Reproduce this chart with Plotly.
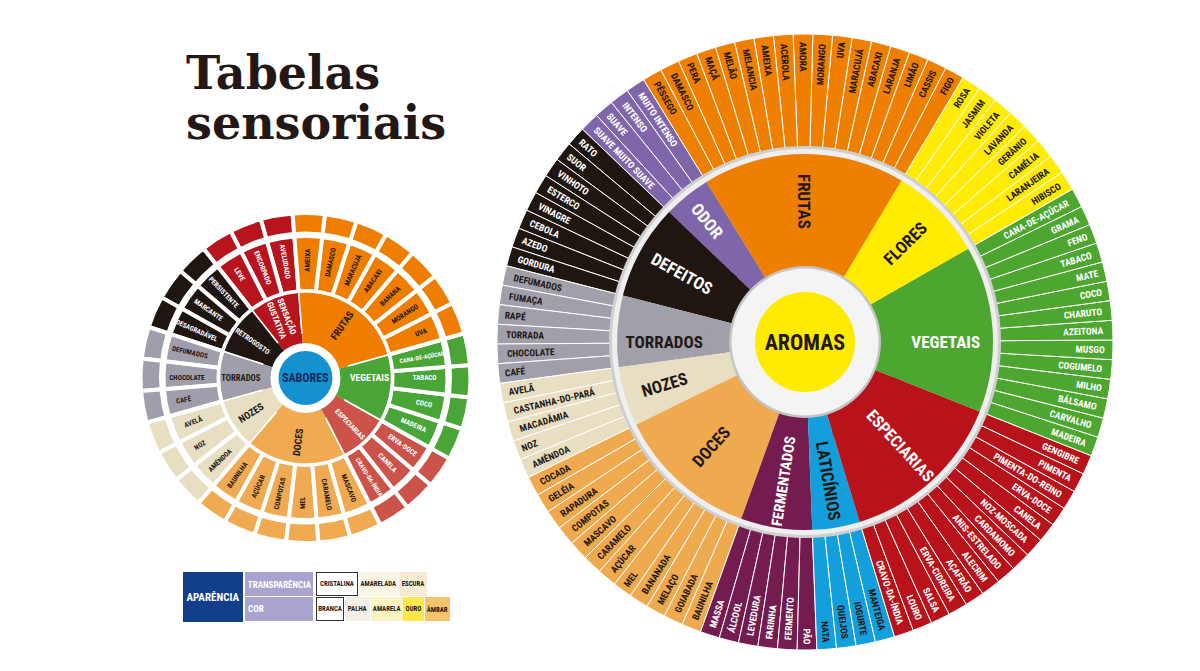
import plotly.graph_objects as go

W, H = 1200, 671
FONT = "Roboto Condensed, Roboto, Liberation Sans, sans-serif"
INK = "#231815"
CLEAR = "rgba(0,0,0,0)"

# -----------------------
# Aromas wheel (clockwise from the top)
# -----------------------
aroma_categories = ["FRUTAS", "FLORES", "VEGETAIS", "ESPECIARIAS", "LATICÍNIOS", "FERMENTADOS",
                    "DOCES", "NOZES", "TORRADOS", "DEFEITOS", "ODOR"]
aroma_colors = ["#ee7f00", "#ffec00", "#4ca62f", "#b8131b", "#139fdb", "#741c50",
                "#efa94f", "#e8dfc2", "#a19fa9", "#1f1511", "#7f66ab"]
aroma_text = [INK, INK, "white", "white", INK, "white", INK, INK, INK, "white", "white"]

frutas = ["PÊSSEGO", "DAMASCO", "PERA", "MAÇÃ", "MELÃO", "MELANCIA", "AMEIXA", "ACEROLA", "AMORA",
          "MORANGO", "UVA", "MARACUJÁ", "ABACAXI", "LARANJA", "LIMÃO", "CASSIS", "FIGO"]
flores = ["ROSA", "JASMIM", "VIOLETA", "LAVANDA", "GERÂNIO", "CAMÉLIA", "LARANJEIRA", "HIBISCO"]
vegetais = ["CANA-DE-AÇÚCAR", "GRAMA", "FENO", "TABACO", "MATE", "COCO", "CHARUTO", "AZEITONA",
            "MUSGO", "COGUMELO", "MILHO", "BÁLSAMO", "CARVALHO", "MADEIRA"]
especiarias = ["GENGIBRE", "PIMENTA", "PIMENTA-DO-REINO", "ERVA-DOCE", "CANELA", "NOZ-MOSCADA",
               "CARDAMOMO", "ANIS-ESTRELADO", "ALECRIM", "AÇAFRÃO", "ERVA-CIDREIRA", "SALSA",
               "LOURO", "CRAVO-DA-ÍNDIA"]
laticinios = ["MANTEIGA", "IOGURTE", "QUEIJOS", "NATA"]
fermentados = ["PÃO", "FERMENTO", "FARINHA", "LEVEDURA", "ÁLCOOL", "MASSA"]
doces = ["BAUNILHA", "GOIABADA", "MELAÇO", "BANANADA", "MEL", "AÇÚCAR", "CARAMELO", "MASCAVO",
         "COMPOTAS", "RAPADURA", "GELÉIA", "COCADA"]
nozes = ["AMÊNDOA", "NOZ", "MACADÂMIA", "CASTANHA-DO-PARÁ", "AVELÃ"]
torrados = ["CAFÉ", "CHOCOLATE", "TORRADA", "RAPÉ", "FUMAÇA", "DEFUMADOS"]
defeitos = ["GORDURA", "AZEDO", "CEBOLA", "VINAGRE", "ESTERCO", "VINHOTO", "SUOR", "RATO"]
odor = ["SUAVE MUITO SUAVE", "SUAVE", "INTENSO", "MUITO INTENSO"]

aroma_leaves = [frutas, flores, vegetais, especiarias, laticinios, fermentados,
                doces, nozes, torrados, defeitos, odor]

# -----------------------
# Sabores wheel (clockwise from the top)
# -----------------------
sabor_categories = ["FRUTAS", "VEGETAIS", "ESPECIARIAS", "DOCES", "NOZES", "TORRADOS",
                    "RETROGOSTO", "SENSAÇÃO<br>GUSTATIVA"]
sabor_colors = ["#ee7d00", "#48a536", "#cb534a", "#efaa52", "#e8dfc3", "#a09eab",
                "#1f1511", "#b8141e"]
sabor_text = [INK, "white", "white", INK, INK, INK, "white", "white"]

s_frutas = ["AMEIXA", "DAMASCO", "MARACUJÁ", "ABACAXI", "BANANA", "MORANGO", "UVA"]
s_vegetais = ["CANA-DE-AÇÚCAR", "TABACO", "COCO", "MADEIRA"]
s_especiarias = ["ERVA-DOCE", "CANELA", "CRAVO-DA-ÍNDIA"]
s_doces = ["MASCAVO", "CARAMELO", "MEL", "COMPOTAS", "AÇÚCAR", "BAUNILHA"]
s_nozes = ["AMÊNDOA", "NOZ", "AVELÃ"]
s_torrados = ["CAFÉ", "CHOCOLATE", "DEFUMADOS"]
s_retrogosto = ["DESAGRADÁVEL", "MARCANTE", "PERSISTENTE"]
s_sensacao = ["LEVE", "ENCORPADO", "AVELUDADO"]

sabor_leaves = [s_frutas, s_vegetais, s_especiarias, s_doces, s_nozes, s_torrados,
                s_retrogosto, s_sensacao]

# -----------------------
# Aparência key
# -----------------------
transparencia = ["CRISTALINA", "AMARELADA", "ESCURA"]
transparencia_colors = ["#ffffff", "#fbf5e3", "#f7ebd3"]
cor = ["BRANCA", "PALHA", "AMARELA", "OURO", "ÂMBAR"]
cor_colors = ["#ffffff", "#f3efe3", "#fcf3c2", "#fde74c", "#f4c36b"]


def domain(center, r):
    cx, cy = center
    return dict(x=[(cx - r) / W, (cx + r) / W], y=[1 - (cy + r) / H, 1 - (cy - r) / H])


def sunburst(center, r, rotation, ids, parents, values, text, fills, tcolors, line_w, size,
             orient="radial"):
    return go.Sunburst(
        ids=ids, labels=ids, parents=parents, values=values, text=text, textinfo="text",
        branchvalues="remainder", sort=False, rotation=rotation,
        marker=dict(colors=fills, line=dict(color="white", width=line_w)),
        leaf=dict(opacity=1),
        textfont=dict(family=FONT, size=size, color=tcolors, weight="bold"),
        insidetextorientation=orient, hoverinfo="skip", domain=domain(center, r))


def category_ring(center, r, rotation, names, leaves, colors, tcolors,
                  fill=True, labels=True, line_w=0, size=14):
    ids, parents, values, text, fills, tc = ["root"], [""], [0], [""], [CLEAR], [INK]
    # plotly lays sectors out counterclockwise, so walk the lists backwards
    for k in reversed(range(len(names))):
        ids.append(f"c{k}")
        parents.append("root")
        values.append(len(leaves[k]))
        text.append(names[k] if labels else "")
        fills.append(colors[k] if fill else CLEAR)
        tc.append(tcolors[k])
    return sunburst(center, r, rotation, ids, parents, values, text, fills, tc, line_w, size)


def leaf_ring(center, r, rotation, leaves, colors, tcolors,
              fill=True, labels=True, line_w=0, size=9, middle=False):
    ids, parents, values, text, fills, tc = ["root"], [""], [0], [""], [CLEAR], [INK]
    for k in reversed(range(len(leaves))):
        parent = "root"
        if middle:
            parent = f"c{k}"
            ids.append(parent)
            parents.append("root")
            values.append(0)
            text.append("")
            fills.append(CLEAR)
            tc.append(INK)
        for i in reversed(range(len(leaves[k]))):
            ids.append(f"c{k}l{i}")
            parents.append(parent)
            values.append(1)
            text.append(leaves[k][i] if labels else "")
            fills.append(colors[k] if fill else CLEAR)
            tc.append(tcolors[k])
    return sunburst(center, r, rotation, ids, parents, values, text, fills, tc, line_w, size)


def disk(center, r, color, label="", size=12, tcolor=INK):
    return sunburst(center, r, 0, ["d"], [""], [1], [label], [color], [tcolor], 0, size,
                    "horizontal")


fig = go.Figure()

# -----------------------
# Big wheel: AROMAS
# -----------------------
A = (797, 334)
rot_a = 121.6
fig.add_trace(leaf_ring(A, 308, rot_a, aroma_leaves, aroma_colors, aroma_text,
                        labels=False, line_w=1))
fig.add_trace(disk(A, 196, "#cfcfcf"))
fig.add_trace(disk(A, 193, "#efefef"))
fig.add_trace(category_ring(A, 100, rot_a, aroma_categories, aroma_leaves, aroma_colors,
                            aroma_text, labels=False))
fig.add_trace(category_ring(A, 188, rot_a, aroma_categories, aroma_leaves, aroma_colors,
                            aroma_text, labels=False))
fig.add_trace(disk(A, 76, "#c4c4c4"))
fig.add_trace(disk(A, 73.5, "#f4f4f4"))
fig.add_trace(disk(A, 50, "#ffeb00", "AROMAS", 22))
fig.add_trace(category_ring(A, 188, rot_a, aroma_categories, aroma_leaves, aroma_colors,
                            aroma_text, fill=False, size=17))
fig.add_trace(leaf_ring(A, 308, rot_a, aroma_leaves, aroma_colors, aroma_text,
                        fill=False, size=9.5, middle=True))

# -----------------------
# Small wheel: SABORES
# -----------------------
S = (297.5, 370)
rot_s = 94.5
fig.add_trace(leaf_ring(S, 165, rot_s, sabor_leaves, sabor_colors, sabor_text,
                        labels=False, line_w=4))
fig.add_trace(disk(S, 146.5, "white"))
fig.add_trace(leaf_ring(S, 142, rot_s, sabor_leaves, sabor_colors, sabor_text,
                        labels=False, line_w=4))
fig.add_trace(disk(S, 89, "white"))
fig.add_trace(category_ring(S, 86, rot_s, sabor_categories, sabor_leaves, sabor_colors,
                            sabor_text, labels=False, line_w=1.5))
fig.add_trace(category_ring(S, 44.5, rot_s, sabor_categories, sabor_leaves, sabor_colors,
                            sabor_text, labels=False))
fig.add_trace(disk(S, 35, "white"))
fig.add_trace(disk(S, 27, "#1591d0", "SABORES", 12, "#13295b"))
fig.add_trace(category_ring(S, 86, rot_s, sabor_categories, sabor_leaves, sabor_colors,
                            sabor_text, fill=False, size=10))
fig.add_trace(leaf_ring(S, 142, rot_s, sabor_leaves, sabor_colors, sabor_text,
                        fill=False, size=7, middle=True))

# -----------------------
# Title and Aparência key
# -----------------------
annotations = [
    dict(text="<b>Tabelas</b>", x=176 / W, y=1 - 36 / H, xanchor="left", yanchor="top"),
    dict(text="<b>sensoriais</b>", x=176 / W, y=1 - 86 / H, xanchor="left", yanchor="top"),
]
for a in annotations:
    a.update(xref="paper", yref="paper", showarrow=False,
             font=dict(family="DejaVu Serif", size=46, color=INK))


def key_box(text, x0, y0, w, h, bg, color=INK, size=6.8, border=None, align="center"):
    # annotation boxes land ~8px right/down of their anchor, so pull them back
    annotations.append(dict(
        text=f"<b>{text}</b>", xref="paper", yref="paper", showarrow=False,
        x=(x0 - 8) / W, y=1 - (y0 - 8) / H, xanchor="left", yanchor="top", width=w, height=h,
        bgcolor=bg, bordercolor=border or bg, borderwidth=1, borderpad=0,
        align=align, valign="middle", font=dict(family=FONT, size=size, color=color)))


key_box("APARÊNCIA", 183, 572, 58, 48, "#113f8b", "white", 11)
key_box(" TRANSPARÊNCIA", 245, 572, 66, 22, "#a9a3cf", "white", 9, align="left")
key_box(" COR", 245, 597, 66, 22, "#a9a3cf", "white", 9, align="left")
x = 316
for name, c in zip(transparencia, transparencia_colors):
    w = 3.5 * len(name) + 5
    key_box(name, x, 572, w, 22, c, border="#333333" if c == "#ffffff" else None)
    x += w + 3
x = 316
for name, c in zip(cor, cor_colors):
    w = 3.5 * len(name) + 5
    key_box(name, x, 597, w, 22, c, border="#333333" if c == "#ffffff" else None)
    x += w + 3

fig.update_layout(
    width=W, height=H,
    margin=dict(l=0, r=0, t=0, b=0),
    paper_bgcolor="white", plot_bgcolor="white",
    showlegend=False,
    annotations=annotations,
)

fig.write_html("out.html")
